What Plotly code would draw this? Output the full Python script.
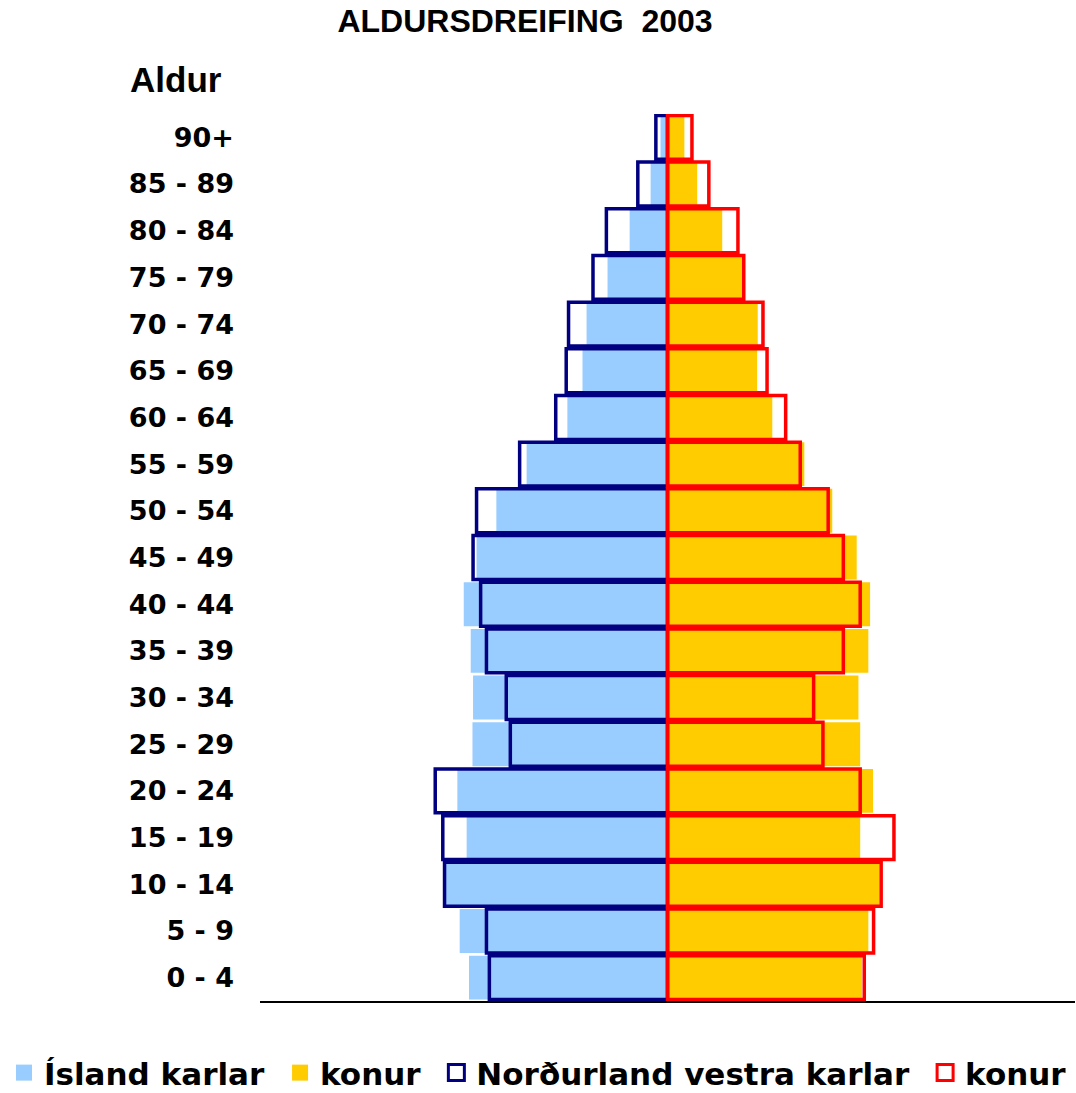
import plotly.graph_objects as go

# Age groups, bottom to top
age_groups = ["0 - 4", "5 - 9", "10 - 14", "15 - 19", "20 - 24", "25 - 29", "30 - 34",
              "35 - 39", "40 - 44", "45 - 49", "50 - 54", "55 - 59", "60 - 64", "65 - 69",
              "70 - 74", "75 - 79", "80 - 84", "85 - 89", "90+"]

# Share of population (%) - Ísland
island_karlar = [3.41, 3.57, 3.81, 3.45, 3.61, 3.35, 3.34, 3.38, 3.50, 3.28,
                 2.94, 2.42, 1.72, 1.46, 1.39, 1.03, 0.65, 0.29, 0.12]
island_konur = [3.34, 3.45, 3.64, 3.31, 3.53, 3.31, 3.28, 3.45, 3.48, 3.25,
                2.83, 2.35, 1.80, 1.54, 1.55, 1.29, 0.94, 0.51, 0.29]

# Share of population (%) - Norðurland vestra
nv_karlar = [3.06, 3.11, 3.83, 3.86, 3.99, 2.70, 2.77, 3.11, 3.21, 3.34,
             3.28, 2.54, 1.92, 1.74, 1.70, 1.28, 1.05, 0.51, 0.20]
nv_konur = [3.38, 3.54, 3.67, 3.89, 3.31, 2.67, 2.51, 3.02, 3.31, 3.02,
            2.76, 2.28, 2.03, 1.71, 1.64, 1.31, 1.21, 0.71, 0.42]

ypos = list(range(len(age_groups)))
LEGEND_FONT = dict(family="DejaVu Sans", size=31, color="black", weight="bold")

fig = go.Figure()

# Ísland - filled bars
fig.add_trace(go.Bar(y=ypos, x=[-v for v in island_karlar], orientation="h",
                     marker=dict(color="#99CCFF", line=dict(width=0)), showlegend=False))
fig.add_trace(go.Bar(y=ypos, x=island_konur, orientation="h",
                     marker=dict(color="#FFCC00", line=dict(width=0)), showlegend=False))

# Norðurland vestra - outlined bars
fig.add_trace(go.Bar(y=ypos, x=[-v for v in nv_karlar], orientation="h",
                     marker=dict(color="rgba(0,0,0,0)", line=dict(color="#000080", width=3.5)),
                     showlegend=False))
fig.add_trace(go.Bar(y=ypos, x=nv_konur, orientation="h",
                     marker=dict(color="rgba(0,0,0,0)", line=dict(color="#FF0000", width=3.5)),
                     showlegend=False))

# legend entries (nbsp adds a little space after each entry, as in the original)
legend_items = [
    ("Ísland karlar&nbsp;", "#99CCFF", "#99CCFF", 0),
    ("konur&nbsp;", "#FFCC00", "#FFCC00", 0),
    ("Norðurland vestra karlar&nbsp;", "white", "#000080", 3),
    ("konur", "white", "#FF0000", 3),
]
for name, fill, edge, lw in legend_items:
    fig.add_trace(go.Scatter(x=[None], y=[None], mode="markers", name=name,
                             marker=dict(symbol="square", size=16, color=fill,
                                         line=dict(color=edge, width=lw))))

fig.update_layout(
    width=1076, height=1093,
    paper_bgcolor="white", plot_bgcolor="white",
    margin=dict(l=260, r=1, t=114, b=92, autoexpand=False),
    barmode="overlay", bargap=0.06,
    title=dict(text="ALDURSDREIFING&nbsp;&nbsp;2003", x=525 / 1076, xanchor="center",
               y=1 - 10 / 1093, yanchor="top",
               font=dict(family="Liberation Sans", size=32, color="black", weight="bold")),
    xaxis=dict(range=[-7, 7], showgrid=False, zeroline=False, showticklabels=False,
               ticks="", showline=True, linecolor="black", linewidth=2, fixedrange=True),
    yaxis=dict(range=[-0.5, 18.5], tickmode="array", tickvals=ypos, ticktext=age_groups,
               showgrid=False, zeroline=False, ticks="", showline=False,
               ticklabelstandoff=25,
               tickfont=dict(family="DejaVu Sans", size=27, color="black", weight="bold")),
    yaxis2=dict(range=[-0.5, 18.5], overlaying="y", anchor="free", position=0.5,
                side="left", showgrid=False, zeroline=False, showticklabels=False,
                tickmode="array", tickvals=[i - 0.5 for i in range(len(age_groups) + 1)],
                ticks="outside", ticklen=8, tickwidth=2, tickcolor="black",
                showline=True, linecolor="#8B0000", linewidth=2.5),
    legend=dict(orientation="h", x=-0.3141, y=-0.0507, xanchor="left", yanchor="top",
                font=LEGEND_FONT, itemsizing="trace", bgcolor="rgba(0,0,0,0)"),
    annotations=[dict(text="Aldur", xref="paper", yref="paper",
                      x=(128 - 260) / 815, y=(1001 - 80) / 887,
                      xanchor="left", yanchor="middle", showarrow=False,
                      font=dict(family="Liberation Sans", size=35, color="black",
                                weight="bold"))],
)

# drop the default page margin so the figure sits at the top-left corner
fig.write_html("out.html", config={"displayModeBar": False},
               post_script="document.body.style.margin='0';")
